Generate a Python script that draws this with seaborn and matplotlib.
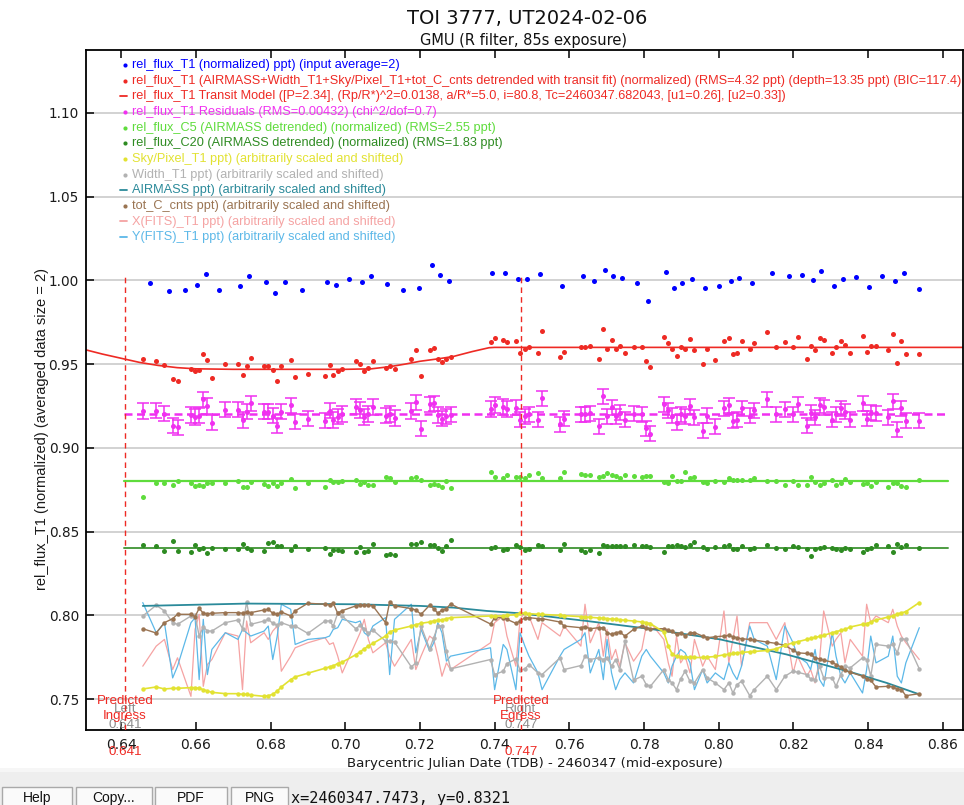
import numpy as np
import pandas as pd
import matplotlib
matplotlib.use("Agg")
import matplotlib.pyplot as plt
import seaborn as sns
from matplotlib.lines import Line2D
from matplotlib.patches import Rectangle
from matplotlib.transforms import blended_transform_factory

# ---------------- data ----------------
TIME = [0.6458,0.6494,0.6516,0.6538,0.6551,0.6587,0.6598,0.6609,0.6620,0.6631,0.6643,0.6679,0.6713,0.6725,0.6736,0.6747,
        0.6783,0.6794,0.6806,0.6818,0.6829,0.6854,0.6866,0.6900,0.6946,0.6958,0.6968,0.6980,0.6992,0.7028,0.7040,0.7051,
        0.7062,0.7074,0.7108,0.7119,0.7132,0.7177,0.7189,0.7203,0.7226,0.7237,0.7248,0.7259,0.7271,0.7282,0.7389,0.7400,
        0.7423,0.7433,0.7457,
        0.7468,0.7481,0.7492,0.7516,0.7527,0.7575,0.7586,0.7631,0.7642,0.7656,0.7679,0.7691,0.7701,0.7713,0.7724,0.7735,
        0.7749,0.7772,0.7794,0.7806,0.7817,0.7853,0.7865,0.7875,0.7887,0.7898,0.7910,0.7923,0.7935,0.7957,0.7969,0.7991,
        0.8014,0.8027,0.8038,0.8049,0.8061,0.8083,0.8095,0.8130,0.8154,0.8177,0.8199,0.8211,0.8236,0.8246,0.8258,0.8270,
        0.8281,0.8304,0.8314,0.8327,0.8338,0.8352,0.8385,0.8396,0.8407,0.8421,0.8454,0.8466,0.8478,0.8489,0.8501,0.8537]

REL_T1_DETR = [0.9528,0.9516,0.9492,0.9414,0.9402,0.9470,0.9456,0.9464,0.9560,0.9522,0.9420,0.9498,0.9498,0.9436,0.9486,0.9534,
               0.9486,0.9486,0.9462,0.9402,0.9486,0.9522,0.9426,0.9444,0.9432,0.9492,0.9436,0.9456,0.9470,0.9516,0.9498,0.9456,
               0.9474,0.9516,0.9474,0.9486,0.9468,0.9528,0.9584,0.9432,0.9584,0.9594,0.9528,0.9510,0.9528,0.9542,0.9630,0.9656,
               0.9644,0.9632,0.9640,
               0.9568,0.9588,0.9600,0.9568,0.9696,0.9540,0.9574,0.9600,0.9600,0.9606,0.9528,0.9708,0.9588,0.9642,0.9588,0.9610,
               0.9568,0.9604,0.9600,0.9516,0.9484,0.9660,0.9624,0.9592,0.9550,0.9600,0.9588,0.9648,0.9582,0.9502,0.9592,0.9526,
               0.9636,0.9654,0.9562,0.9568,0.9636,0.9592,0.9624,0.9690,0.9600,0.9630,0.9600,0.9660,0.9532,0.9610,0.9582,0.9654,
               0.9642,0.9568,0.9600,0.9636,0.9616,0.9568,0.9666,0.9574,0.9610,0.9606,0.9582,0.9678,0.9508,0.9636,0.9562,0.9562]

RESIDUALS = [0.9221,0.9222,0.9204,0.9132,0.9123,0.9196,0.9184,0.9192,0.9289,0.9251,0.9150,0.9229,0.9229,0.9167,0.9217,0.9265,
             0.9217,0.9217,0.9193,0.9133,0.9217,0.9253,0.9157,0.9175,0.9163,0.9223,0.9167,0.9187,0.9201,0.9246,0.9227,0.9185,
             0.9203,0.9243,0.9193,0.9201,0.9178,0.9221,0.9272,0.9114,0.9259,0.9266,0.9196,0.9175,0.9189,0.9199,0.9231,0.9256,
             0.9244,0.9232,0.9240,
             0.9168,0.9188,0.9200,0.9168,0.9296,0.9140,0.9174,0.9200,0.9200,0.9206,0.9128,0.9308,0.9188,0.9242,0.9188,0.9210,
             0.9168,0.9204,0.9200,0.9116,0.9084,0.9260,0.9224,0.9192,0.9150,0.9200,0.9188,0.9248,0.9182,0.9102,0.9192,0.9126,
             0.9236,0.9254,0.9162,0.9168,0.9236,0.9192,0.9224,0.9290,0.9200,0.9230,0.9200,0.9260,0.9132,0.9210,0.9182,0.9254,
             0.9242,0.9168,0.9200,0.9236,0.9216,0.9168,0.9266,0.9174,0.9210,0.9206,0.9182,0.9278,0.9108,0.9236,0.9162,0.9162]
RES_ERR = 0.0046
RES_BASE = 0.92

REL_C5 = [0.8708,0.8788,0.8790,0.8780,0.8804,0.8788,0.8774,0.8778,0.8774,0.8788,0.8790,0.8792,0.8804,0.8768,0.8768,0.8796,
          0.8784,0.8774,0.8792,0.8774,0.8790,0.8812,0.8762,0.8792,0.8768,0.8810,0.8798,0.8798,0.8804,0.8810,0.8786,0.8798,
          0.8780,0.8780,0.8828,0.8822,0.8796,0.8822,0.8828,0.8810,0.8780,0.8786,0.8780,0.8768,0.8804,0.8762,
          0.8858,0.8828,0.8822,0.8840,0.8828,0.8828,0.8822,0.8840,0.8852,0.8822,0.8822,0.8858,0.8846,0.8840,0.8840,0.8828,
          0.8834,0.8852,0.8840,0.8832,0.8822,0.8840,0.8834,0.8828,0.8834,0.8834,0.8796,0.8790,0.8834,0.8804,0.8804,0.8858,
          0.8822,0.8828,0.8796,0.8792,0.8804,0.8798,0.8822,0.8810,0.8806,0.8810,0.8810,0.8822,0.8804,0.8804,0.8780,0.8804,
          0.8780,0.8780,0.8828,0.8798,0.8780,0.8792,0.8810,0.8780,0.8792,0.8814,0.8798,0.8786,0.8792,0.8774,0.8798,0.8768,
          0.8792,0.8792,0.8774,0.8768,0.8810]
C5_BASE = 0.88

REL_C20 = [0.8418,0.8412,0.8382,0.8444,0.8382,0.8378,0.8420,0.8394,0.8400,0.8370,0.8400,0.8396,0.8396,0.8426,0.8400,0.8388,
           0.8382,0.8432,0.8436,0.8416,0.8412,0.8388,0.8412,0.8396,0.8400,0.8364,0.8388,0.8388,0.8382,0.8378,0.8408,0.8378,
           0.8382,0.8426,0.8358,0.8364,0.8358,0.8426,0.8426,0.8438,0.8420,0.8420,0.8400,0.8382,0.8412,0.8450,
           0.8400,0.8408,0.8388,0.8396,0.8420,0.8408,0.8388,0.8396,0.8418,0.8412,0.8388,0.8426,0.8388,0.8378,0.8388,0.8370,
           0.8418,0.8412,0.8412,0.8412,0.8412,0.8412,0.8418,0.8412,0.8412,0.8408,0.8376,0.8412,0.8412,0.8418,0.8412,0.8408,
           0.8418,0.8438,0.8406,0.8396,0.8406,0.8412,0.8418,0.8396,0.8396,0.8412,0.8396,0.8402,0.8418,0.8400,0.8394,0.8412,
           0.8408,0.8396,0.8352,0.8396,0.8400,0.8406,0.8400,0.8394,0.8388,0.8400,0.8394,0.8378,0.8394,0.8400,0.8418,0.8412,
           0.8378,0.8424,0.8408,0.8418,0.8400]
C20_BASE = 0.84

SKY = [0.7560,0.7572,0.7560,0.7564,0.7564,0.7568,0.7568,0.7564,0.7556,0.7548,0.7540,0.7532,0.7532,0.7528,0.7528,0.7524,
       0.7516,0.7520,0.7528,0.7548,0.7572,0.7616,0.7632,0.7654,0.7684,0.7692,0.7698,0.7712,0.7720,0.7764,0.7782,0.7800,
       0.7816,0.7832,0.7876,0.7900,0.7912,0.7936,0.7944,0.7952,0.7960,0.7966,0.7970,0.7972,0.7980,0.7986,0.7996,0.7996,
       0.7996,0.8000,0.8004,
       0.8012,0.8012,0.8010,0.8006,0.8005,0.8000,0.7998,0.7992,0.7990,0.7988,0.7984,0.7982,0.7980,0.7978,0.7976,0.7974,
       0.7970,0.7966,0.7960,0.7956,0.7950,0.7900,0.7816,0.7770,0.7756,0.7752,0.7750,0.7750,0.7748,0.7748,0.7750,0.7754,
       0.7764,0.7768,0.7772,0.7776,0.7778,0.7782,0.7784,0.7790,0.7800,0.7820,0.7836,0.7842,0.7856,0.7862,0.7868,0.7874,
       0.7880,0.7896,0.7902,0.7910,0.7916,0.7930,0.7946,0.7950,0.7960,0.7972,0.7990,0.7996,0.8008,0.8014,0.8022,0.8076]

WIDTH = [0.7996,0.8060,0.8026,0.7956,0.7946,0.7996,0.8000,0.7876,0.7932,0.7906,0.7906,0.7956,0.7972,0.7920,0.8080,0.7946,
         0.7966,0.7976,0.7952,0.7940,0.7956,0.7936,0.7936,0.7892,0.7966,0.7966,0.7936,0.8012,0.7996,0.7920,0.7940,0.7920,
         0.7892,0.7912,0.7846,0.7846,0.7840,0.7692,0.7716,0.7936,0.7800,0.7866,0.7936,0.7936,0.7786,0.7680,0.7736,0.7646,
         0.7666,0.7712,0.7740,
         0.7672,0.7680,0.7706,0.7656,0.7646,0.7746,0.7676,0.7700,0.7756,0.7736,0.7746,0.7736,0.7746,0.7696,0.7736,0.7676,
         0.7846,0.7612,0.7636,0.7586,0.7576,0.7676,0.7616,0.7596,0.7556,0.7620,0.7666,0.7606,0.7596,0.7676,0.7626,0.7596,
         0.7556,0.7596,0.7536,0.7586,0.7606,0.7520,0.7556,0.7636,0.7556,0.7636,0.7666,0.7660,0.7646,0.7620,0.7616,0.7696,
         0.7626,0.7626,0.7576,0.7646,0.7696,0.7686,0.7746,0.7736,0.7636,0.7826,0.7816,0.7826,0.7776,0.7860,0.7856,0.7680]

TOT_C_CNTS = [0.7920,0.7894,0.7956,0.7980,0.8006,0.8006,0.7992,0.8042,0.8012,0.8010,0.8012,0.8016,0.8016,0.8012,0.8020,0.8016,
              0.8032,0.8036,0.8012,0.8006,0.8020,0.7996,0.8026,0.8072,0.8066,0.8062,0.8072,0.8012,0.8028,0.8056,0.8060,0.8060,
              0.8060,0.8056,0.7956,0.8080,0.8056,0.8040,0.8032,0.8006,0.8060,0.8040,0.8012,0.8032,0.8040,0.8068,0.7948,0.7986,
              0.7986,0.7976,0.7952,
              0.7966,0.7986,0.7986,0.7980,0.7980,0.7960,0.7936,0.7926,0.7932,0.7920,0.7926,0.7926,0.7896,0.7886,0.7896,0.7900,
              0.7876,0.7916,0.7936,0.7926,0.7920,0.7920,0.7912,0.7906,0.7886,0.7896,0.7876,0.7896,0.7896,0.7876,0.7866,0.7872,
              0.7876,0.7880,0.7872,0.7866,0.7860,0.7856,0.7852,0.7840,0.7832,0.7820,0.7792,0.7776,0.7772,0.7766,0.7746,0.7740,
              0.7732,0.7720,0.7706,0.7692,0.7672,0.7660,0.7636,0.7620,0.7612,0.7572,0.7576,0.7572,0.7560,0.7556,0.7520,0.7532]

X_FITS = [0.7696,0.7816,0.7856,0.7676,0.7746,0.7516,0.7916,0.8006,0.7576,0.7706,0.7736,0.7896,0.7876,0.7556,0.7966,0.7836,
          0.7896,0.7856,0.7906,0.7936,0.7666,0.7756,0.7806,0.7836,0.7866,0.7826,0.7836,0.7756,0.7656,0.7836,0.7896,0.7976,
          0.7856,0.7776,0.7836,0.7756,0.7696,0.7856,0.7676,0.7756,0.7876,0.7856,0.7756,0.7636,0.7716,0.7676,0.7836,0.7956,
          0.7996,0.7876,0.7696,
          0.7976,0.8016,0.7996,0.7856,0.7956,0.7876,0.7936,0.7816,0.8066,0.7836,0.7956,0.7756,0.7916,0.7736,0.7796,0.7696,
          0.7836,0.7726,0.7796,0.7936,0.7956,0.7856,0.7716,0.7636,0.7876,0.7716,0.7756,0.7656,0.7856,0.7696,0.7756,0.7676,
          0.8026,0.7716,0.7856,0.7996,0.7696,0.7956,0.7956,0.7956,0.7856,0.7956,0.7656,0.7756,0.7636,0.7676,0.7596,0.7736,
          0.8026,0.7816,0.7856,0.7896,0.7716,0.7856,0.7756,0.8066,0.7956,0.7996,0.7956,0.8036,0.7936,0.7876,0.7836,0.7736]

Y_FITS = [0.8076,0.7896,0.7956,0.7626,0.7696,0.7956,0.7986,0.7616,0.7976,0.7646,0.7796,0.7896,0.7856,0.7916,0.7896,0.7876,
          0.7906,0.7936,0.7736,0.7876,0.8066,0.8036,0.7826,0.7856,0.7866,0.7876,0.7916,0.7926,0.7976,0.7956,0.7966,0.7896,
          0.7876,0.7936,0.7986,0.7646,0.7976,0.8066,0.7776,0.7916,0.7786,0.7836,0.7956,0.7896,0.7726,0.7756,0.7806,0.7556,
          0.7826,0.7796,0.7556,
          0.7896,0.7816,0.7756,0.7656,0.7556,0.7756,0.7796,0.7856,0.7896,0.7656,0.7796,0.7616,0.7856,0.7656,0.7556,0.7616,
          0.7656,0.7596,0.7756,0.7796,0.7756,0.7656,0.7596,0.7696,0.7756,0.7796,0.7776,0.7716,0.7556,0.7676,0.7596,0.7656,
          0.7616,0.7716,0.7656,0.7616,0.7696,0.7936,0.7856,0.7816,0.7616,0.7936,0.7836,0.7756,0.7716,0.7676,0.7796,0.7616,
          0.7576,0.7896,0.7756,0.7636,0.7596,0.7656,0.7536,0.7676,0.7876,0.7716,0.7756,0.7876,0.7636,0.7596,0.7716,0.7926]

BLUE_T = [0.6478,0.6528,0.6570,0.6604,0.6627,0.6663,0.6719,0.6742,0.6789,0.6812,0.6840,0.6883,0.6952,0.6976,0.7009,0.7046,
          0.7068,0.7113,0.7156,0.7198,0.7232,0.7254,0.7277,0.7394,0.7429,0.7462,
          0.7486,0.7522,0.7580,0.7636,0.7667,0.7696,0.7718,0.7740,0.7782,0.7811,0.7858,0.7881,0.7903,0.7929,0.7963,0.8002,
          0.8032,0.8055,0.8089,0.8143,0.8188,0.8224,0.8252,0.8275,0.8308,0.8333,0.8368,0.8402,0.8438,0.8472,0.8495,0.8537]
BLUE_V = [0.9986,0.9938,0.9944,0.9970,1.0036,0.9944,0.9968,1.0024,0.9992,0.9926,0.9992,0.9944,0.9992,0.9974,1.0010,0.9992,
          1.0024,0.9980,0.9944,0.9956,1.0090,1.0030,0.9998,1.0046,1.0046,1.0010,
          1.0008,1.0040,0.9968,1.0028,0.9996,1.0064,1.0028,1.0014,0.9984,0.9876,1.0050,0.9954,0.9984,1.0008,0.9954,0.9968,
          0.9996,1.0016,0.9984,1.0044,1.0028,1.0034,1.0004,1.0058,0.9968,1.0008,1.0022,0.9962,1.0028,0.9996,1.0046,0.9950]

AIRMASS_T = [0.6458,0.6737,0.7022,0.7201,0.7290,0.7379,0.7468,0.7647,0.7825,0.8004,0.8182,0.8361,0.8450,0.8537]
AIRMASS_V = [0.8056,0.8070,0.8066,0.8056,0.8046,0.8026,0.8012,0.7966,0.7916,0.7856,0.7766,0.7656,0.7596,0.7528]

MODEL_T = [0.6306,0.6350,0.6400,0.6450,0.6500,0.6550,0.6600,0.6700,0.7000,0.7070,0.7120,0.7160,0.7200,0.7250,0.7290,
           0.7340,0.7385,0.7400,0.8654]
MODEL_V = [0.9585,0.9560,0.9535,0.9510,0.9492,0.9479,0.9472,0.9469,0.9469,0.9472,0.9485,0.9500,0.9517,0.9532,0.9546,
           0.9575,0.9598,0.9600,0.9600]

BASE_T = [0.6408, 0.8615]
PRED_INGRESS = 0.641
PRED_EGRESS = 0.747
PRED_TOP = 1.0036

X_TICKS = [0.64,0.66,0.68,0.70,0.72,0.74,0.76,0.78,0.80,0.82,0.84,0.86]
Y_TICKS = [0.75,0.80,0.85,0.90,0.95,1.00,1.05,1.10]

LEGEND = [
    ("rel_flux_T1 (normalized) ppt) (input average=2)", "blue", "dot"),
    ("rel_flux_T1 (AIRMASS+Width_T1+Sky/Pixel_T1+tot_C_cnts detrended with transit fit) (normalized) (RMS=4.32 ppt) (depth=13.35 ppt) (BIC=117.4)", "red", "dot"),
    ("rel_flux_T1 Transit Model ([P=2.34], (Rp/R*)^2=0.0138, a/R*=5.0, i=80.8, Tc=2460347.682043, [u1=0.26], [u2=0.33])", "red", "line"),
    ("rel_flux_T1 Residuals (RMS=0.00432) (chi^2/dof=0.7)", "magenta", "dot"),
    ("rel_flux_C5 (AIRMASS detrended) (normalized) (RMS=2.55 ppt)", "lgreen", "dot"),
    ("rel_flux_C20 (AIRMASS detrended) (normalized) (RMS=1.83 ppt)", "dgreen", "dot"),
    ("Sky/Pixel_T1 ppt) (arbitrarily scaled and shifted)", "yellow", "dot"),
    ("Width_T1 ppt) (arbitrarily scaled and shifted)", "grey", "dot"),
    ("AIRMASS ppt) (arbitrarily scaled and shifted)", "teal", "line"),
    ("tot_C_cnts ppt) (arbitrarily scaled and shifted)", "brown", "dot"),
    ("X(FITS)_T1 ppt) (arbitrarily scaled and shifted)", "pink", "line"),
    ("Y(FITS)_T1 ppt) (arbitrarily scaled and shifted)", "lblue", "line"),
]

COL = {
    "blue": "#0000ff", "red": "#ee2a24", "magenta": "#f030f0", "lgreen": "#5fdc3c",
    "dgreen": "#2e8b22", "yellow": "#e2e232", "grey": "#b2b2b2", "teal": "#2b8a9a",
    "brown": "#9a7452", "pink": "#f5a3a3", "lblue": "#5cb8e8",
}

# ---------------- figure ----------------
sns.set_theme(style="white")
plt.rcParams['font.family'] = ['DejaVu Sans']

W, H = 964, 805
fig = plt.figure(figsize=(W / 100, H / 100), dpi=100)
fig.patch.set_facecolor("white")


def fx(px):
    return px / W


def fy(py):
    return 1 - py / H


AX_L, AX_R, AX_T, AX_B = 86, 963, 50, 730
ax = fig.add_axes([fx(AX_L), fy(AX_B), (AX_R - AX_L) / W, (AX_B - AX_T) / H])

df = pd.DataFrame({
    "t": pd.Series(TIME), "detr": pd.Series(REL_T1_DETR), "res": pd.Series(RESIDUALS),
    "c5": pd.Series(REL_C5), "c20": pd.Series(REL_C20), "sky": pd.Series(SKY),
    "width": pd.Series(WIDTH), "totc": pd.Series(TOT_C_CNTS), "xf": pd.Series(X_FITS),
    "yf": pd.Series(Y_FITS),
})
blue_df = pd.DataFrame({"t": BLUE_T, "v": BLUE_V})
am_df = pd.DataFrame({"t": AIRMASS_T, "v": AIRMASS_V})
model_df = pd.DataFrame({"t": MODEL_T, "v": MODEL_V})

line_kw = dict(estimator=None, sort=False, ax=ax, legend=False)

# auxiliary (scaled & shifted) series
sns.lineplot(data=df, x="t", y="xf", color=COL["pink"], lw=0.9, **line_kw)
sns.lineplot(data=df, x="t", y="yf", color=COL["lblue"], lw=0.9, **line_kw)
sns.lineplot(data=df, x="t", y="width", color=COL["grey"], lw=1.0, marker="o", ms=3.2, mew=0, **line_kw)
sns.lineplot(data=am_df, x="t", y="v", color=COL["teal"], lw=1.3, **line_kw)
sns.lineplot(data=df, x="t", y="totc", color=COL["brown"], lw=1.0, marker="o", ms=3.2, mew=0, **line_kw)
sns.lineplot(data=df, x="t", y="sky", color=COL["yellow"], lw=1.2, marker="o", ms=3.2, mew=0, **line_kw)

# comparison stars
sns.lineplot(x=BASE_T, y=[C5_BASE, C5_BASE], color=COL["lgreen"], lw=1.6, **line_kw)
sns.lineplot(x=BASE_T, y=[C20_BASE, C20_BASE], color=COL["dgreen"], lw=1.4, alpha=0.85, **line_kw)
sns.scatterplot(data=df, x="t", y="c5", color=COL["lgreen"], s=13, linewidth=0, ax=ax, legend=False)
sns.scatterplot(data=df, x="t", y="c20", color=COL["dgreen"], s=13, linewidth=0, ax=ax, legend=False)

# residuals
sns.lineplot(x=BASE_T, y=[RES_BASE, RES_BASE], color=COL["magenta"], lw=1.8, ls=(0, (3.2, 1.8)), **line_kw)
ax.errorbar(df["t"], df["res"], yerr=RES_ERR, fmt="none", ecolor=COL["magenta"], elinewidth=1.1,
            capsize=4.5, capthick=1.1, zorder=3)
sns.scatterplot(data=df, x="t", y="res", color=COL["magenta"], s=13, linewidth=0, ax=ax, legend=False, zorder=4)

# target detrended + model
sns.lineplot(data=model_df, x="t", y="v", color=COL["red"], lw=1.2, **line_kw)
sns.scatterplot(data=df, x="t", y="detr", color=COL["red"], s=13, linewidth=0, ax=ax, legend=False)

# target raw (binned)
sns.scatterplot(data=blue_df, x="t", y="v", color=COL["blue"], s=13, linewidth=0, ax=ax, legend=False)

# predicted ingress / egress
ymin, ymax = 0.7315, 1.1376
frac_top = (PRED_TOP - ymin) / (ymax - ymin)
for xv in (PRED_INGRESS, PRED_EGRESS):
    ax.axvline(xv, ymin=0, ymax=frac_top, color=COL["red"], lw=1.0, ls=(0, (4, 3)), zorder=5)

ax.set_xlim(0.6306, 0.8654)
ax.set_ylim(ymin, ymax)
ax.set_xticks(X_TICKS)
ax.set_xticklabels([f"{v:.2f}" for v in X_TICKS])
ax.set_yticks(Y_TICKS)
ax.set_yticklabels([f"{v:.2f}" for v in Y_TICKS])
ax.yaxis.grid(True, color="#cfcfcf", lw=1.3)
ax.xaxis.grid(False)
ax.set_axisbelow(True)
for sp in ax.spines.values():
    sp.set_color("black")
    sp.set_linewidth(1.3)
ax.tick_params(axis="x", direction="in", length=6, width=1.1, top=True, bottom=True,
               labelsize=10, pad=6, colors="black", labelcolor="#1a1a1a")
ax.tick_params(axis="y", direction="in", length=6, width=1.1, left=True, right=False,
               labelsize=9.8, pad=5, colors="black", labelcolor="#1a1a1a")

ax.set_xlabel("Barycentric Julian Date (TDB) - 2460347 (mid-exposure)", fontsize=9.6, color="#1a1a1a")
ax.xaxis.set_label_coords((535 - AX_L) / (AX_R - AX_L), (AX_B - 757) / (AX_B - AX_T))
ax.set_ylabel("rel_flux_T1 (normalized) (averaged data size = 2)", fontsize=10.5, color="#1a1a1a",
              family=["Liberation Sans", "DejaVu Sans"])
ax.yaxis.set_label_coords((49 - AX_L) / (AX_R - AX_L), (AX_B - 429) / (AX_B - AX_T))

# labels of predicted lines
tr = blended_transform_factory(ax.transData, ax.transAxes)


def yfrac(py):
    return (AX_B - py) / (AX_B - AX_T)


lab_kw = dict(transform=tr, ha="center", va="center", fontsize=9.6,
              family=["Liberation Sans", "DejaVu Sans"], clip_on=False)
for xv, side, word in ((PRED_INGRESS, "Left", "Ingress"), (PRED_EGRESS, "Right", "Egress")):
    ax.text(xv, yfrac(709), side, color="#8c8c8c", **lab_kw)
    ax.text(xv, yfrac(725), f"{xv:.3f}", color="#8c8c8c", **lab_kw)
    ax.text(xv, yfrac(701), "Predicted", color=COL["red"], **lab_kw)
    ax.text(xv, yfrac(716), word, color=COL["red"], **lab_kw)
    ax.text(xv, yfrac(752), f"{xv:.3f}", color=COL["red"], **lab_kw)

# titles
fig.text(fx(527), fy(18), "TOI 3777, UT2024-02-06", ha="center", va="center", fontsize=14, color="#111111")
fig.text(fx(524), fy(40), "GMU (R filter, 85s exposure)", ha="center", va="center", fontsize=10.5, color="#111111")

# legend rows
for i, (txt, ckey, kind) in enumerate(LEGEND):
    py = 65 + i * 15.65
    c = COL[ckey]
    if kind == "dot":
        fig.add_artist(Line2D([fx(125)], [fy(py)], marker="o", ms=3.0, mew=0, color=c,
                              transform=fig.transFigure))
    else:
        fig.add_artist(Line2D([fx(120), fx(126.5)], [fy(py), fy(py)], lw=1.3, color=c,
                              transform=fig.transFigure))
    fig.text(fx(132), fy(py), txt, color=c, fontsize=9.2, va="center", ha="left",
             family=["Liberation Sans", "DejaVu Sans"])

# bottom tool bar
fig.add_artist(Rectangle((0, 0), 1, fy(768), transform=fig.transFigure, facecolor="#eeeeee",
                         edgecolor="none", zorder=-5))
fig.add_artist(Rectangle((0, fy(772)), 1, fy(768) - fy(772), transform=fig.transFigure,
                         facecolor="#f6f6f6", edgecolor="none", zorder=-5))
BUTTONS = [("Help", 2, 72), ("Copy...", 76, 152), ("PDF", 155, 227), ("PNG", 231, 288)]
for name, x0, x1 in BUTTONS:
    fig.add_artist(Rectangle((fx(x0), fy(806)), fx(x1) - fx(x0), fy(787) - fy(806),
                             transform=fig.transFigure, facecolor="#fafafa", edgecolor="#a9a9a9", lw=1.0))
    fig.text(fx((x0 + x1) / 2), fy(798), name, ha="center", va="center", fontsize=10,
             color="#111111", family=["Liberation Sans", "DejaVu Sans"])
fig.text(fx(291), fy(798), "x=2460347.7473, y=0.8321", ha="left", va="center", fontsize=11,
         color="#111111", family=["DejaVu Sans Mono"])

fig.savefig("out.png", dpi=100)
